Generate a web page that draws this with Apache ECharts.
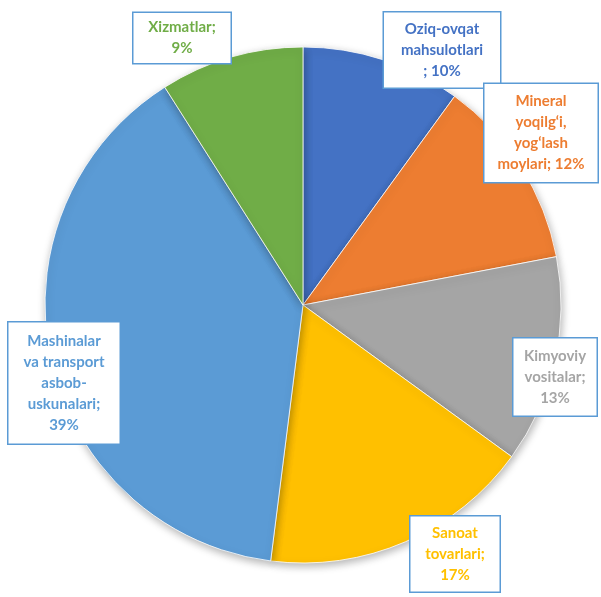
<!DOCTYPE html>
<html><head><meta charset="utf-8">
<script src="https://cdn.jsdelivr.net/npm/echarts@6/dist/echarts.min.js"></script>
<style>html,body{margin:0;padding:0;background:#fff}#c{width:601px;height:597px}</style>
</head><body><div id="c"></div>
<script>
// Data
const categories = ["Oziq-ovqat mahsulotlari","Mineral yoqilg‘i, yog‘lash moylari","Kimyoviy vositalar","Sanoat tovarlari","Mashinalar va transport asbob-uskunalari","Xizmatlar"];
const labelNames = ["Oziq-ovqat\nmahsulotlari\n","Mineral\nyoqilg‘i,\nyog‘lash\nmoylari","Kimyoviy\nvositalar;\n","Sanoat\ntovarlari;\n","Mashinalar\nva transport\nasbob-\nuskunalari;\n","Xizmatlar;\n"];
const labelSep = ["; ","; ","","","",""];
const values = [10, 12, 13, 17, 39, 9];

// Style / layout
const colors = ["#4472C4","#ED7D31","#A5A5A5","#FFC000","#5B9BD5","#70AD47"];
const textColors = ["#4472C4","#ED7D31","#A5A5A5","#FFC000","#5B9BD5","#70AD47"];
const labelBox = [ // cx, cy, w, padTop
  [442, 50, 116, 6],
  [541, 133, 113, 7],
  [555, 377, 83, 7],
  [455, 554, 89, 6],
  [64, 383, 111, 8],
  [182, 38, 97, 4]
];

const chart = echarts.init(document.getElementById('c'), null, {renderer:'canvas'});
const data = categories.map((c, i) => ({
  name: c,
  value: values[i],
  itemStyle: {color: colors[i]},
  label: {
    formatter: labelNames[i] + labelSep[i] + values[i] + '%',
    color: textColors[i],
    width: labelBox[i][2] - 12,
    padding: [labelBox[i][3], 6]
  }
}));

chart.setOption({
  animation: false,
  series: [{
    type: 'pie',
    center: [303, 305],
    radius: 258,
    startAngle: 90,
    clockwise: true,
    data: data,
    itemStyle: {
      borderColor: '#fff', borderWidth: 0.8,
      shadowBlur: 8, shadowColor: 'rgba(0,0,0,0.3)', shadowOffsetX: 1, shadowOffsetY: 3
    },
    label: {
      show: true,
      position: 'outside',
      fontFamily: 'Lato',
      fontWeight: 'bold',
      fontSize: 15,
      lineHeight: 21,
      align: 'center',
      backgroundColor: '#fff',
      borderColor: '#5B9BD5',
      borderWidth: 1.5
    },
    labelLine: {show: false},
    labelLayout: function (p) {
      const b = labelBox[p.dataIndex];
      return {x: b[0], y: b[1], align: 'center', verticalAlign: 'middle'};
    },
    emphasis: {disabled: true}
  }]
});
</script></body></html>
